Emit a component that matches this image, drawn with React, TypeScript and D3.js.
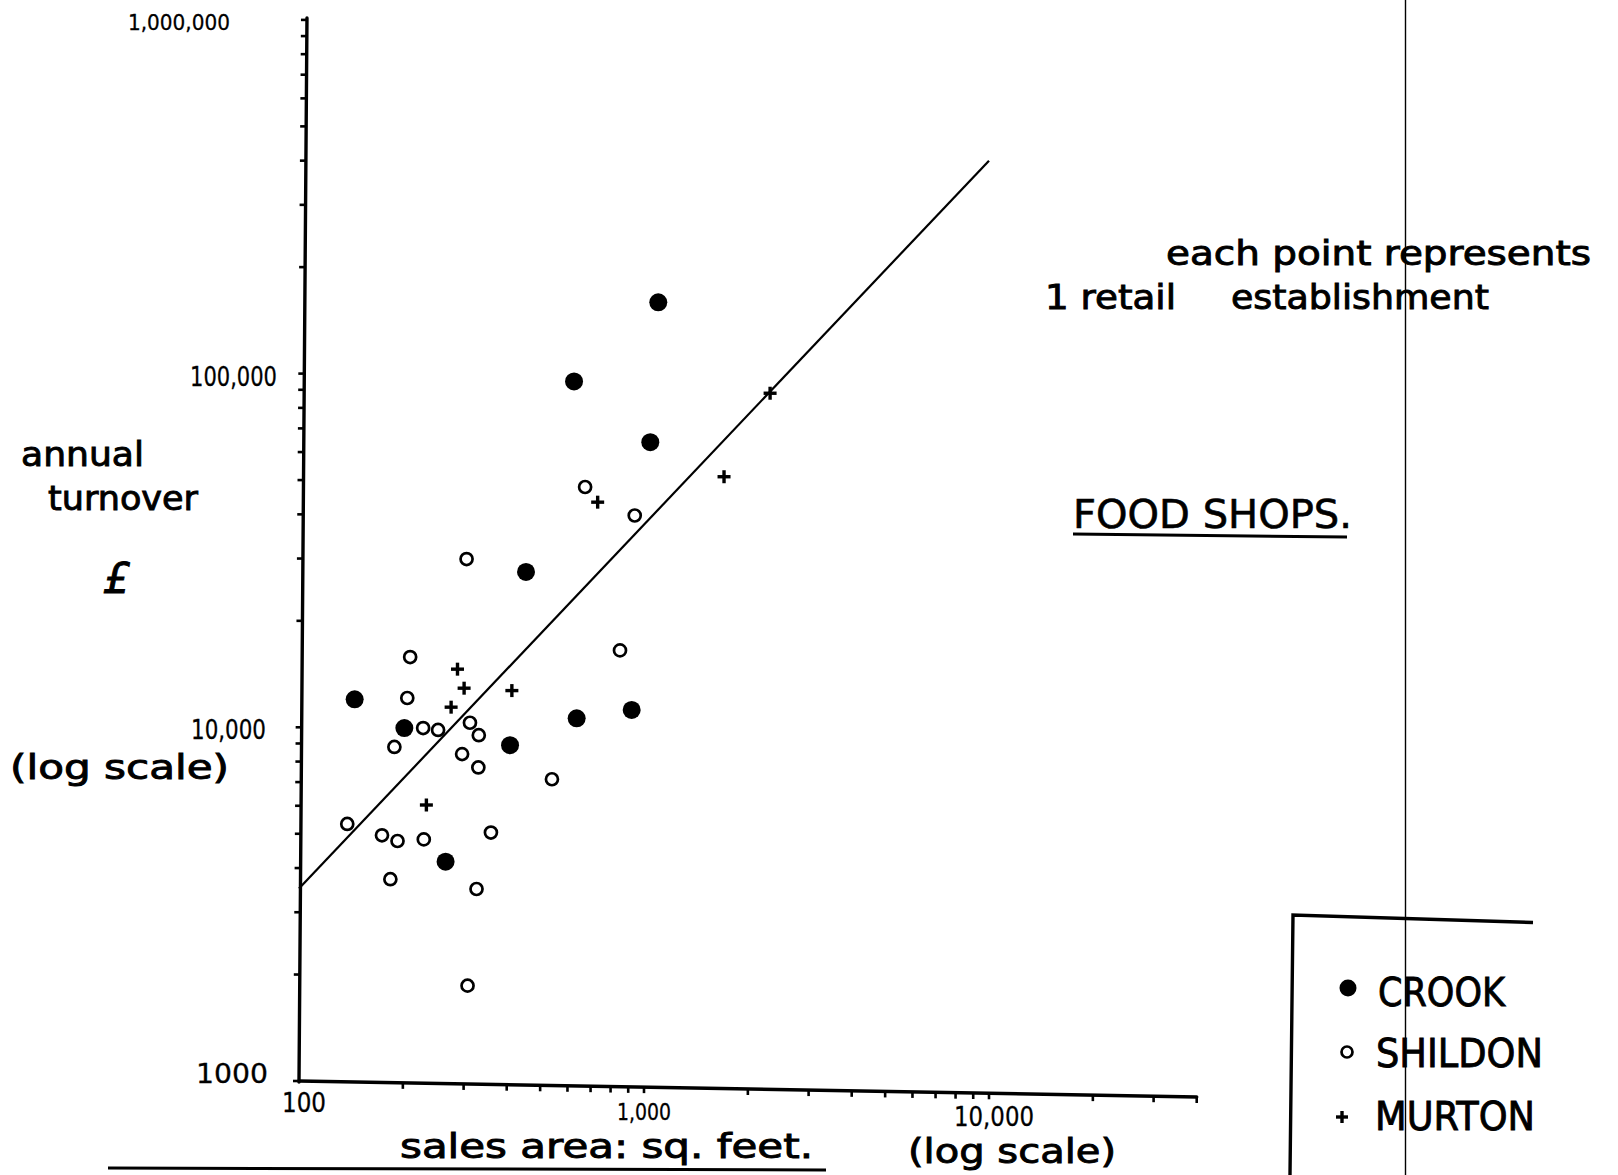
import React from 'react';
import * as d3 from 'd3';

// ---- data ----
const crookX = [1100, 627, 1043, 455, 145, 202, 409, 638, 921, 266];
const crookY = [159000, 95000, 64000, 27500, 12000, 9950, 8900, 10600, 11200, 4170];

const shildonX = [675, 940, 306, 210, 206, 189, 229, 253, 313, 332, 297, 331, 541, 852, 138, 174, 193, 230, 360, 184, 327, 308];
const shildonY = [47800, 39700, 29900, 15800, 12100, 8800, 9950, 9830, 10300, 9500, 8400, 7700, 7130, 16500, 5330, 4950, 4770, 4820, 5040, 3720, 3490, 1860];

const murtonX = [734, 1706, 2320, 288, 301, 276, 414, 234];
const murtonY = [43300, 51100, 88000, 14600, 12900, 11400, 12700, 6030];

const trendX = [100, 10000];
const trendY = [3500, 400000];

const yTickValues = [1000, 10000, 100000, 1000000];
const yTickLabels = ['1000', '10,000', '100,000', '1,000,000'];
const xTickValues = [100, 1000, 10000];
const xTickLabels = ['100', '1,000', '10,000'];

const legendNames = ['CROOK', 'SHILDON', 'MURTON'];

const FONT = "'DejaVu Sans', 'Liberation Sans', sans-serif";

export default function App() {
  const W = 1618, H = 1175;
  const x = d3.scaleLog().domain([100, 40000]).range([299, 299 + 345 * Math.log10(400)]);
  const y = d3.scaleLog().domain([1000, 1000000]).range([1081, 1081 - 353.7 * 3]);

  // slight scan tilt of the drawn axes
  const xTilt = 0.0178;
  const yTilt = 0.0075;
  const xAxisY = (px: number) => y(1000) + (px - x(100)) * xTilt;
  const yAxisX = (py: number) => x(100) + (y(1000) - py) * yTilt;

  const yTicks: number[] = [];
  [1000, 10000, 100000].forEach(d => { for (let k = 1; k <= 9; k++) yTicks.push(d * k); });
  yTicks.push(1000000);
  const xTicks: number[] = [];
  [100, 1000, 10000].forEach(d => { for (let k = 1; k <= 9; k++) { const v = d * k; if (v <= 40000) xTicks.push(v); } });

  const yTop = y(1000000) - 2;
  const xEnd = x(40000);

  const line = d3.line<number>().x((_, i) => x(trendX[i])).y((_, i) => y(trendY[i]));

  const yLabelLayout = [
    { x0: 196, w: 72, b: 1083, fs: 26 },
    { x0: 191, w: 75, b: 739, fs: 26 },
    { x0: 190, w: 87, b: 386, fs: 26 },
    { x0: 128, w: 102, b: 30, fs: 22 },
  ];
  const xLabelLayout = [
    { x0: 282, w: 44, b: 1112, fs: 26 },
    { x0: 617, w: 54, b: 1120, fs: 23 },
    { x0: 954, w: 80, b: 1126, fs: 26 },
  ];

  const plus = (cx: number, cy: number, s: number, sw: number, key: string) => (
    <g key={key} stroke="#000" strokeWidth={sw}>
      <line x1={cx - s} y1={cy} x2={cx + s} y2={cy} />
      <line x1={cx} y1={cy - s} x2={cx} y2={cy + s} />
    </g>
  );

  const bigText = { stroke: '#000', strokeWidth: 0.9 } as const;
  const smallText = { stroke: '#000', strokeWidth: 0.3 } as const;

  return (
    <svg width={W} height={H} style={{ position: 'absolute', left: 0, top: 0, background: '#fff' }}
      fontFamily={FONT}>
      <rect x={0} y={0} width={W} height={H} fill="#fff" />

      {/* y axis */}
      <line x1={yAxisX(y(1000))} y1={y(1000) + 1} x2={yAxisX(yTop)} y2={yTop} stroke="#000" strokeWidth={3.4} strokeLinecap="round" />
      {yTicks.map(v => {
        const py = y(v);
        const ax = yAxisX(py);
        return <line key={'yt' + v} x1={ax} y1={py} x2={ax - 6} y2={py} stroke="#000" strokeWidth={2.6} />;
      })}

      {/* x axis */}
      <line x1={x(100)} y1={xAxisY(x(100))} x2={xEnd} y2={xAxisY(xEnd)} stroke="#000" strokeWidth={3.4} strokeLinecap="round" />
      {xTicks.map(v => {
        const px = x(v);
        const ay = xAxisY(px);
        return v === 100 ? null : <line key={'xt' + v} x1={px} y1={ay} x2={px} y2={ay + 6} stroke="#000" strokeWidth={2.6} />;
      })}

      {/* tick labels */}
      {yTickValues.map((v, i) => (
        <text key={'yl' + v} x={yLabelLayout[i].x0} y={yLabelLayout[i].b} fontSize={yLabelLayout[i].fs}
          textLength={yLabelLayout[i].w} lengthAdjust="spacingAndGlyphs" {...smallText}>{yTickLabels[i]}</text>
      ))}
      {xTickValues.map((v, i) => (
        <text key={'xl' + v} x={xLabelLayout[i].x0} y={xLabelLayout[i].b} fontSize={xLabelLayout[i].fs}
          textLength={xLabelLayout[i].w} lengthAdjust="spacingAndGlyphs" {...smallText}>{xTickLabels[i]}</text>
      ))}

      {/* trend line */}
      <path d={line(trendX) || ''} fill="none" stroke="#000" strokeWidth={2.2} />

      {/* points */}
      {shildonX.map((v, i) => (
        <circle key={'s' + i} cx={x(v)} cy={y(shildonY[i])} r={6} fill="#fff" stroke="#000" strokeWidth={2.7} />
      ))}
      {crookX.map((v, i) => (
        <circle key={'c' + i} cx={x(v)} cy={y(crookY[i])} r={9} fill="#000" />
      ))}
      {murtonX.map((v, i) => plus(x(v), y(murtonY[i]), 6.5, 3.4, 'm' + i))}

      {/* y-axis title */}
      <text x={21} y={466} fontSize={33} textLength={123} lengthAdjust="spacingAndGlyphs" {...bigText}>annual</text>
      <text x={48} y={510} fontSize={33} textLength={150} lengthAdjust="spacingAndGlyphs" {...bigText}>turnover</text>
      <text x={103} y={593} fontSize={42} fontStyle="italic" {...bigText}>£</text>
      <text x={10} y={779} fontSize={33} textLength={219} lengthAdjust="spacingAndGlyphs" {...bigText}>(log  scale)</text>

      {/* x-axis title */}
      <text x={400} y={1158} fontSize={33} textLength={413} lengthAdjust="spacingAndGlyphs" {...bigText}>sales  area:  sq.  feet.</text>
      <text x={908} y={1163} fontSize={34} textLength={208} lengthAdjust="spacingAndGlyphs" {...bigText}>(log  scale)</text>
      <line x1={108} y1={1168} x2={826} y2={1170} stroke="#000" strokeWidth={3} />

      {/* annotation */}
      <text x={1166} y={265} fontSize={33} textLength={425} lengthAdjust="spacingAndGlyphs" {...bigText}>each  point  represents</text>
      <text x={1045} y={309} fontSize={33} textLength={131} lengthAdjust="spacingAndGlyphs" {...bigText}>1 retail</text>
      <text x={1231} y={309} fontSize={33} textLength={258} lengthAdjust="spacingAndGlyphs" {...bigText}>establishment</text>

      {/* title */}
      <text x={1073} y={528} fontSize={39} textLength={279} lengthAdjust="spacingAndGlyphs" strokeWidth={0.6} stroke="#000">FOOD   SHOPS.</text>
      <line x1={1073} y1={534} x2={1347} y2={537} stroke="#000" strokeWidth={3} />

      {/* legend */}
      <path d="M1290,1175 L1293,915 L1533,922.5" fill="none" stroke="#000" strokeWidth={3.4} />
      <circle cx={1348} cy={988} r={8.5} fill="#000" />
      <text x={1378} y={1006} fontSize={39} textLength={127} lengthAdjust="spacingAndGlyphs" {...bigText}>{legendNames[0]}</text>
      <circle cx={1347} cy={1052} r={5.5} fill="#fff" stroke="#000" strokeWidth={2.7} />
      <text x={1376} y={1067} fontSize={39} textLength={167} lengthAdjust="spacingAndGlyphs" {...bigText}>{legendNames[1]}</text>
      {plus(1342, 1117, 6, 3.4, 'legplus')}
      <text x={1375} y={1130} fontSize={39} textLength={160} lengthAdjust="spacingAndGlyphs" {...bigText}>{legendNames[2]}</text>

      {/* scan fold line */}
      <line x1={1405.5} y1={0} x2={1405.5} y2={H} stroke="#000" strokeWidth={1.4} />
    </svg>
  );
}
